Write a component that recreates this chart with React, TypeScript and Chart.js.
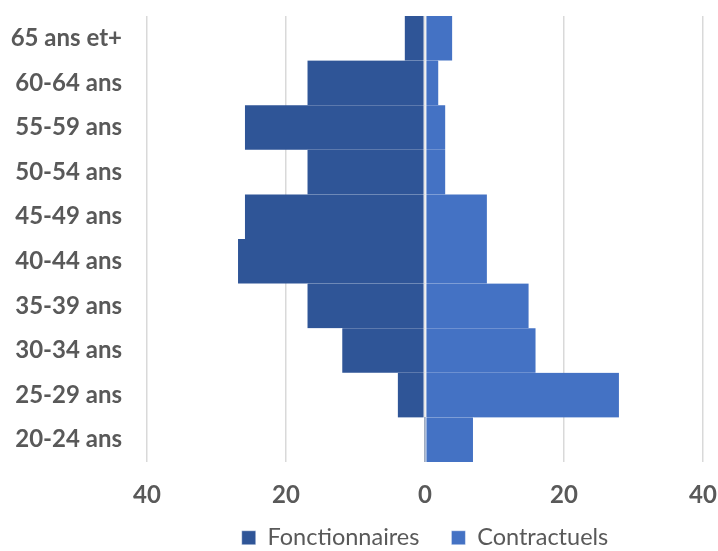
import React, { useEffect, useRef } from "react";
import { Chart, registerables } from "chart.js";

Chart.register(...registerables);

// Age brackets, top to bottom
const ageGroups = [
  "65 ans et+",
  "60-64 ans",
  "55-59 ans",
  "50-54 ans",
  "45-49 ans",
  "40-44 ans",
  "35-39 ans",
  "30-34 ans",
  "25-29 ans",
  "20-24 ans",
];

// Headcounts per bracket
const fonctionnaires = [3, 17, 26, 17, 26, 27, 17, 12, 4, 0];
const contractuels = [4, 2, 3, 3, 9, 9, 15, 16, 28, 7];

const xTicks = [-40, -20, 0, 20, 40];

const DARK_BLUE = "#2F5597";
const BLUE = "#4472C4";
const TEXT = "#595959";

const LEGEND_HEIGHT = 57;

// Fixed-height bottom legend, and x tick labels allowed to run below their axis box
const layoutTweaks = {
  id: "layoutTweaks",
  afterInit(chart: any) {
    const legend = chart.legend;
    if (!legend) return;
    const fit = legend.fit.bind(legend);
    legend.fit = function () {
      fit();
      this.height = LEGEND_HEIGHT;
    };
  },
  afterLayout(chart: any) {
    const x = chart.scales.x;
    if (x) x.bottom = chart.height;
  },
};

export default function App() {
  const canvasRef = useRef<HTMLCanvasElement | null>(null);

  useEffect(() => {
    const canvas = canvasRef.current;
    if (!canvas) return;

    const chart = new Chart(canvas, {
      type: "bar",
      data: {
        labels: ageGroups,
        datasets: [
          {
            label: "Fonctionnaires",
            data: fonctionnaires.map((v) => -v),
            backgroundColor: DARK_BLUE,
            borderColor: "rgba(255,255,255,0.85)",
            borderWidth: { left: 1, right: 1, top: 0, bottom: 0 },
            borderSkipped: false,
            barPercentage: 1,
            categoryPercentage: 1,
          },
          {
            label: "Contractuels",
            data: contractuels,
            backgroundColor: BLUE,
            borderColor: "rgba(255,255,255,0.85)",
            borderWidth: { left: 1, right: 1, top: 0, bottom: 0 },
            borderSkipped: false,
            barPercentage: 1,
            categoryPercentage: 1,
          },
        ],
      },
      plugins: [layoutTweaks],
      options: {
        indexAxis: "y",
        animation: false,
        responsive: false,
        maintainAspectRatio: false,
        layout: { padding: { top: 16, right: 15, left: 0, bottom: 0 } },
        scales: {
          x: {
            stacked: true,
            min: -40,
            max: 40,
            afterBuildTicks: (axis: any) => {
              axis.ticks = xTicks.map((v) => ({ value: v }));
            },
            afterFit: (axis: any) => {
              axis.height = 32;
              axis.paddingLeft = 0;
              axis.paddingRight = 0;
            },
            ticks: {
              callback: (v: any) => String(Math.abs(Number(v))),
              color: TEXT,
              font: { family: "Lato", size: 24, weight: "bold" },
              padding: 19,
            },
            grid: {
              color: "#D9D9D9",
              lineWidth: 1.5,
              drawTicks: false,
            },
            border: { display: false },
          },
          y: {
            stacked: true,
            afterFit: (axis: any) => {
              axis.width = 147;
              axis.paddingTop = 0;
              axis.paddingBottom = 0;
            },
            ticks: {
              color: TEXT,
              font: { family: "Lato", size: 24, weight: "bold" },
              padding: 25,
            },
            grid: { display: false, drawTicks: false },
            border: { display: false },
          },
        },
        plugins: {
          tooltip: { enabled: false },
          legend: {
            position: "bottom",
            fullSize: false,
            labels: {
              color: TEXT,
              font: { family: "Lato", size: 23.5 },
              boxWidth: 14,
              boxHeight: 14,
              padding: 32,
            },
          },
        },
      },
    });

    return () => chart.destroy();
  }, []);

  return (
    <div style={{ position: "fixed", left: 0, top: 0, width: 718, height: 551, background: "#fff" }}>
      <canvas ref={canvasRef} width={718} height={551} style={{ display: "block" }} />
    </div>
  );
}
